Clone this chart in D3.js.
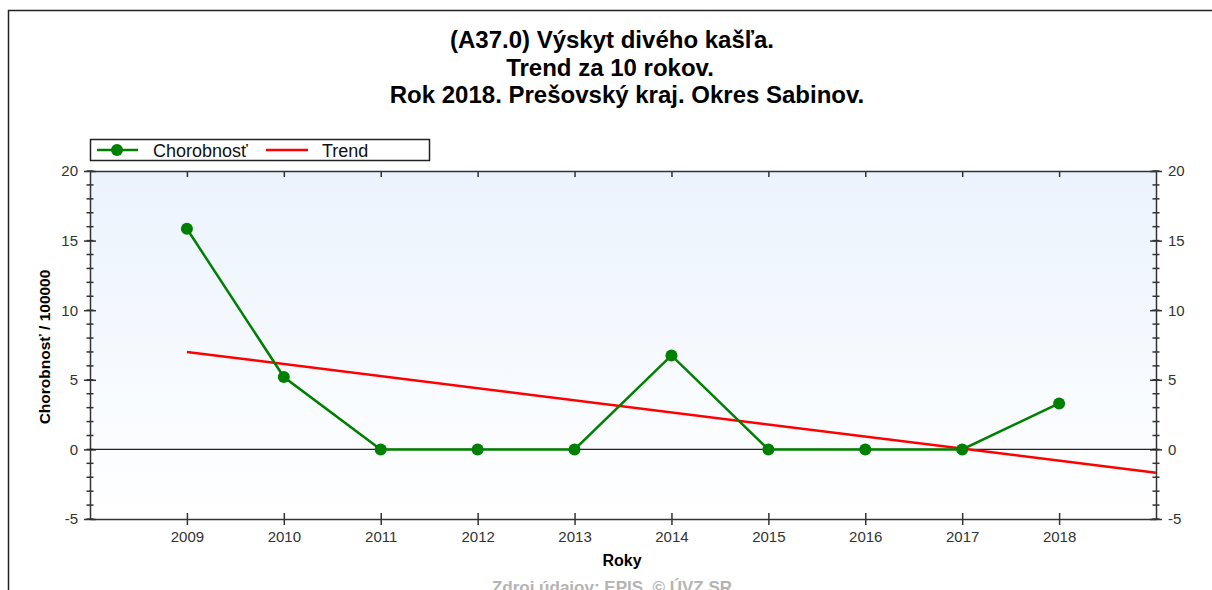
<!DOCTYPE html>
<html>
<head>
<meta charset="utf-8">
<script src="https://cdn.jsdelivr.net/npm/d3@7"></script>
<style>
    body { margin: 0; background: #fff; }
    text { font-family: "Liberation Sans", Arial, sans-serif; }
</style>
</head>
<body>
<script>
"use strict";
(function(){

    // data
    const years = [2009, 2010, 2011, 2012, 2013, 2014, 2015, 2016, 2017, 2018]
    const rates = [15.85, 5.2, 0, 0, 0, 6.75, 0, 0, 0, 3.3]
    const trendYears = [2009, 2019]
    const trendValues = [7.0, -1.68]
    const yTicks = [-5, 0, 5, 10, 15, 20]
    const titleLines = [
        "(A37.0) Výskyt divého kašľa.",
        "Trend za 10 rokov.",
        "Rok 2018. Prešovský kraj. Okres Sabinov."
    ]
    const titleX = [612, 610, 627]

    const m = { width: 1212, height: 590, left: 90, right: 1156, top: 171, bottom: 519 }

    const svg = d3.select("body").append("svg")
        .attr("width", m.width)
        .attr("height", m.height)

    // outer frame (right and bottom run off the picture)
    svg.append("rect")
        .attr("x", 8.5).attr("y", 10.5)
        .attr("width", 1300).attr("height", 700)
        .attr("fill", "none").attr("stroke", "#222").attr("stroke-width", 1.5)

    const defs = svg.append("defs")
    const grad = defs.append("linearGradient")
        .attr("id", "bg").attr("x1", 0).attr("y1", 0).attr("x2", 0).attr("y2", 1)
    grad.append("stop").attr("offset", "0%").attr("stop-color", "#ebf3fd")
    grad.append("stop").attr("offset", "100%").attr("stop-color", "#ffffff")

    const x = d3.scaleLinear().domain([2008, 2019]).range([m.left, m.right])
    const y = d3.scaleLinear().domain([-5, 20]).range([m.bottom, m.top])

    svg.append("rect")
        .attr("x", m.left).attr("y", m.top)
        .attr("width", m.right - m.left).attr("height", m.bottom - m.top)
        .attr("fill", "url(#bg)")

    // title
    svg.append("g").selectAll("text")
        .data(titleLines)
        .enter()
        .append("text")
            .attr("x", (d, i) => titleX[i])
            .attr("y", (d, i) => [48, 76, 103][i])
            .attr("text-anchor", "middle")
            .style("font-size", "24px")
            .style("font-weight", "bold")
            .attr("fill", "#000")
            .text(d => d)

    // axes
    const minor = d3.range(-5, 20.01, 1)

    function styleAxis(g) {
        g.selectAll("path").attr("stroke", "#333").attr("stroke-width", 1.5)
        g.selectAll("line").attr("stroke", "#333").attr("stroke-width", 1.5)
        g.selectAll("text").style("font-size", "15px").attr("fill", "#333")
    }

    // minor ticks on both vertical axes
    ;[m.left, m.right].forEach(function(px) {
        svg.append("g").selectAll("line")
            .data(minor)
            .enter()
            .append("line")
                .attr("x1", px - 3.5).attr("x2", px + 3.5)
                .attr("y1", d => y(d)).attr("y2", d => y(d))
                .attr("stroke", "#333").attr("stroke-width", 1.5)
    })

    const fmt = d => String(d)

    const leftAxis = svg.append("g")
        .attr("transform", "translate(" + m.left + ",0)")
        .call(d3.axisLeft(y).tickValues(yTicks).tickFormat(fmt).tickSize(6).tickSizeOuter(0).tickPadding(6))
    leftAxis.selectAll(".tick line").attr("x2", 6).attr("x1", -6)
    styleAxis(leftAxis)

    const rightAxis = svg.append("g")
        .attr("transform", "translate(" + m.right + ",0)")
        .call(d3.axisRight(y).tickValues(yTicks).tickFormat(fmt).tickSize(6).tickSizeOuter(0).tickPadding(6))
    rightAxis.selectAll(".tick line").attr("x1", -6).attr("x2", 6)
    styleAxis(rightAxis)

    const bottomAxis = svg.append("g")
        .attr("transform", "translate(0," + m.bottom + ")")
        .call(d3.axisBottom(x).tickValues(years).tickFormat(fmt).tickSize(6).tickSizeOuter(0).tickPadding(6))
    bottomAxis.selectAll(".tick line").attr("y1", -6).attr("y2", 6)
    styleAxis(bottomAxis)

    const topAxis = svg.append("g")
        .attr("transform", "translate(0," + m.top + ")")
        .call(d3.axisTop(x).tickValues(years).tickFormat("").tickSize(-6).tickSizeOuter(0))
    styleAxis(topAxis)

    // zero line
    svg.append("line")
        .attr("x1", m.left).attr("x2", m.right)
        .attr("y1", y(0)).attr("y2", y(0))
        .attr("stroke", "#222").attr("stroke-width", 1.2)

    // trend
    const trendData = trendYears.map((d, i) => [d, trendValues[i]])
    svg.append("path")
        .datum(trendData)
        .attr("d", d3.line().x(d => x(d[0])).y(d => y(d[1])))
        .attr("fill", "none").attr("stroke", "#ff0000").attr("stroke-width", 2.5)

    // series
    const series = years.map((d, i) => [d, rates[i]])
    svg.append("path")
        .datum(series)
        .attr("d", d3.line().x(d => x(d[0])).y(d => y(d[1])))
        .attr("fill", "none").attr("stroke", "#008000").attr("stroke-width", 2.5)

    svg.append("g").selectAll("circle")
        .data(series)
        .enter()
        .append("circle")
            .attr("cx", d => x(d[0]))
            .attr("cy", d => y(d[1]))
            .attr("r", 6)
            .attr("fill", "#008000")

    // axis titles
    svg.append("text")
        .attr("text-anchor", "middle")
        .attr("transform", "translate(50,347)rotate(-90)")
        .style("font-size", "15.5px").style("font-weight", "bold")
        .text("Chorobnosť / 100000")

    svg.append("text")
        .attr("text-anchor", "middle")
        .attr("x", 622).attr("y", 566)
        .style("font-size", "16px").style("font-weight", "bold")
        .text("Roky")

    svg.append("text")
        .attr("text-anchor", "middle")
        .attr("x", 612).attr("y", 593)
        .style("font-size", "17px").style("font-weight", "bold")
        .attr("fill", "#b4b4b4")
        .text("Zdroj údajov: EPIS, © ÚVZ SR")

    // legend
    const legend = svg.append("g")
    legend.append("rect")
        .attr("x", 90.5).attr("y", 139.5).attr("width", 339).attr("height", 21)
        .attr("fill", "#fff").attr("stroke", "#222").attr("stroke-width", 1.5)
    legend.append("line")
        .attr("x1", 97).attr("x2", 138).attr("y1", 150).attr("y2", 150)
        .attr("stroke", "#008000").attr("stroke-width", 2.5)
    legend.append("circle")
        .attr("cx", 117).attr("cy", 150).attr("r", 6).attr("fill", "#008000")
    legend.append("text")
        .attr("x", 153).attr("y", 156.5)
        .style("font-size", "18px").attr("fill", "#111")
        .text("Chorobnosť")
    legend.append("line")
        .attr("x1", 266).attr("x2", 308).attr("y1", 150).attr("y2", 150)
        .attr("stroke", "#ff0000").attr("stroke-width", 2.5)
    legend.append("text")
        .attr("x", 322).attr("y", 156.5)
        .style("font-size", "18px").attr("fill", "#111")
        .text("Trend")
})()
</script>
</body>
</html>
